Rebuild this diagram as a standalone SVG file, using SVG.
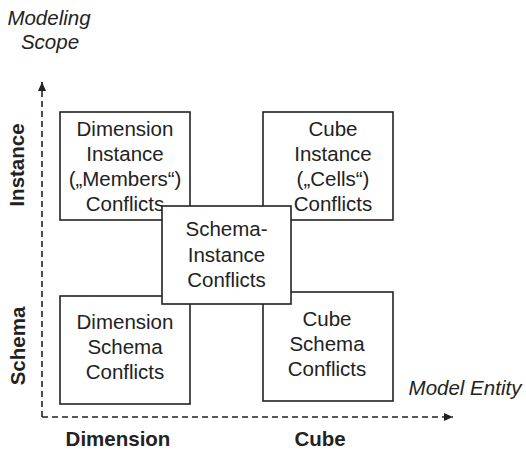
<svg xmlns="http://www.w3.org/2000/svg" width="526" height="451" viewBox="0 0 526 451">
<style>
  .box { fill: #fff; stroke: #222; stroke-width: 1.6; }
  .t { font-family: "Liberation Sans", Arial, sans-serif; font-size: 20.5px; fill: #222; text-anchor: middle; }
  .it { font-style: italic; }
  .b { font-weight: bold; }
  .axis { fill: none; stroke: #222; stroke-width: 1.6; stroke-dasharray: 6 4; }
</style>
<defs>
  <marker id="arr" markerWidth="10" markerHeight="8" refX="9" refY="4" orient="auto" markerUnits="userSpaceOnUse">
    <path d="M0,0 L9,4 L0,8 Z" fill="#222"/>
  </marker>
</defs>
<rect width="526" height="451" fill="#fff"/>
<g id="connectors">
  <path class="axis" d="M42,417 L42,82" marker-end="url(#arr)"/>
  <path class="axis" d="M42,417 L453,417" marker-end="url(#arr)"/>
</g>
<g id="labels">
  <text class="t it" x="49" y="25">Modeling</text>
  <text class="t it" x="50" y="49">Scope</text>
  <text class="t it" x="465" y="395">Model Entity</text>
  <text class="t b" x="118" y="446">Dimension</text>
  <text class="t b" x="320" y="446">Cube</text>
  <text class="t b" transform="translate(24,165) rotate(-90)" x="0" y="0">Instance</text>
  <text class="t b" transform="translate(25,346) rotate(-90)" x="0" y="0">Schema</text>
</g>
<g id="dim-instance">
  <rect class="box" x="60" y="112" width="130" height="108"/>
  <text class="t" x="125" y="136">Dimension</text>
  <text class="t" x="125" y="161">Instance</text>
  <text class="t" x="125" y="186">(„Members“)</text>
  <text class="t" x="125" y="211">Conflicts</text>
</g>
<g id="cube-instance">
  <rect class="box" x="263" y="112" width="130" height="108"/>
  <text class="t" x="333" y="136">Cube</text>
  <text class="t" x="333" y="161">Instance</text>
  <text class="t" x="333" y="186">(„Cells“)</text>
  <text class="t" x="333" y="211">Conflicts</text>
</g>
<g id="dim-schema">
  <rect class="box" x="60" y="296" width="130" height="108"/>
  <text class="t" x="125" y="329">Dimension</text>
  <text class="t" x="125" y="354">Schema</text>
  <text class="t" x="125" y="379">Conflicts</text>
</g>
<g id="cube-schema">
  <rect class="box" x="263" y="292" width="130" height="109"/>
  <text class="t" x="327" y="326">Cube</text>
  <text class="t" x="327" y="351">Schema</text>
  <text class="t" x="327" y="376">Conflicts</text>
</g>
<g id="schema-instance">
  <rect class="box" x="162" y="206" width="129" height="98"/>
  <text class="t" x="226.5" y="236">Schema-</text>
  <text class="t" x="226.5" y="261.5">Instance</text>
  <text class="t" x="226.5" y="287">Conflicts</text>
</g>
</svg>
